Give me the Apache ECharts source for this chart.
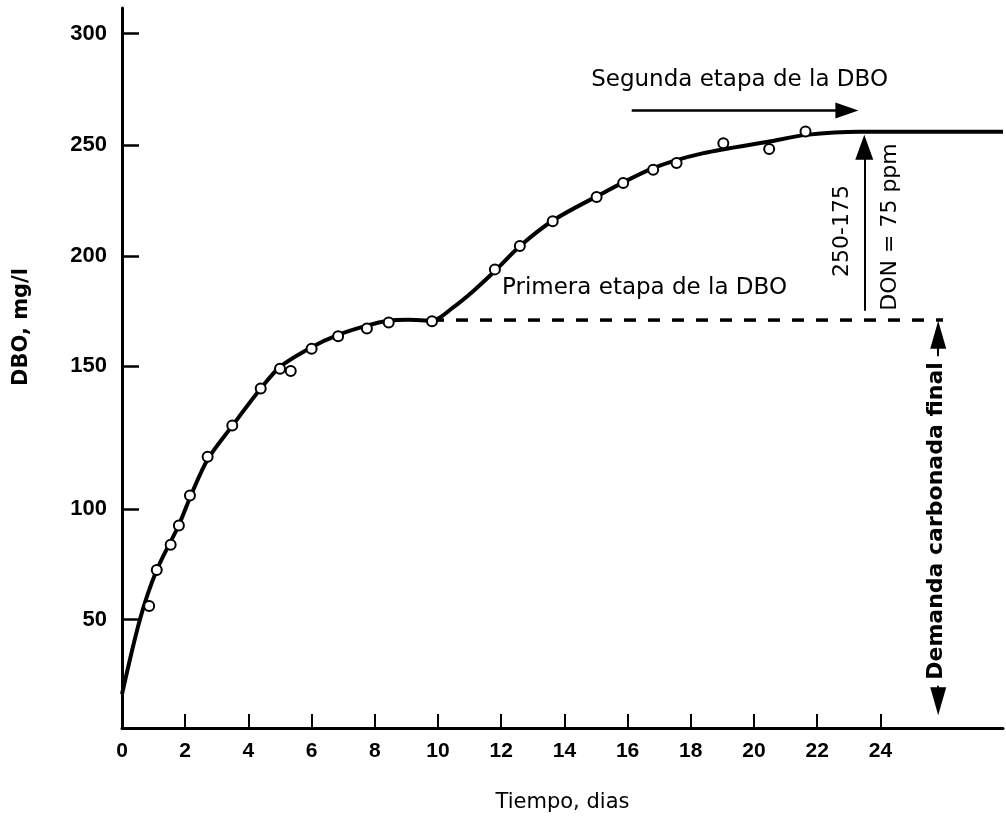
<!DOCTYPE html>
<html>
<head>
<meta charset="utf-8">
<title>DBO</title>
<script src="https://cdn.jsdelivr.net/npm/echarts@6/dist/echarts.min.js"></script>
<style>
  html, body { margin: 0; padding: 0; background: #fff; }
  #chart { width: 1006px; height: 818px; }
</style>
</head>
<body>
<div id="chart"></div>
<script>
// puntos medidos (dias, DBO mg/l)
var pointDays = [0.86, 1.10, 1.54, 1.80, 2.15, 2.71, 3.49, 4.39, 5.00, 5.34, 6.00, 6.84, 7.75,
  8.44, 9.81, 11.80, 12.59, 13.63, 15.02, 15.86, 16.81, 17.55, 19.03, 20.48, 21.63];
var pointDBO = [52.7, 68.2, 79.2, 87.5, 100.4, 117.2, 130.7, 146.6, 155.2, 154.2, 163.8, 169.2, 172.6,
  175.2, 175.7, 198.1, 208.2, 218.9, 229.4, 235.4, 241.1, 244.0, 252.6, 250.1, 257.7];

// curva trazada a mano
var curveDays = [0, 0.57, 1.10, 1.80, 2.21, 2.71, 3.49, 4.39, 5.00, 6.00, 6.84, 7.75, 8.44, 9.05,
  9.81, 10.48, 11.12, 11.80, 12.59, 13.65, 15.02, 16.81, 18.40, 20.48, 21.65, 23.35, 27.88];
var curveDBO = [14.6, 47.0, 68.2, 87.7, 101.4, 116.0, 130.5, 146.6, 156.0, 164.5, 169.8, 173.8, 175.9, 176.3,
  176.0, 181.7, 188.8, 197.4, 208.1, 219.3, 229.6, 241.8, 248.3, 253.3, 256.2, 257.6, 257.6];

// primera etapa (demanda carbonada final)
var firstStageDays = [9.81, 25.98];
var firstStageDBO = 176.2;

// flechas
var arrowSegunda = [[16.13, 266.7], [22.94, 266.7]];
var arrowDON = [[23.49, 180.2], [23.49, 250.8]];
var arrowDemanda = [[25.83, 169.9], [25.83, 11.6]];

// ejes
var xTickDays = [0, 2, 4, 6, 8, 10, 12, 14, 16, 18, 20, 22, 24];
var yTickLabels = ['50', '100', '150', '200', '250', '300'];
var yTickAt = [46.8, 94.6, 156.4, 203.7, 251.8, 300];

function pairs(xs, ys) {
  return xs.map(function (x, i) { return [x, ys[i]]; });
}

var chart = echarts.init(document.getElementById('chart'));

var option = {
  animation: false,
  backgroundColor: '#fff',
  grid: { left: 122, right: 3, top: 8, bottom: 87 },
  xAxis: {
    type: 'value',
    min: 0,
    max: 27.88,
    name: 'Tiempo, dias',
    nameLocation: 'middle',
    nameGap: 64,
    nameTextStyle: { fontFamily: 'DejaVu Sans', fontSize: 21, color: '#000' },
    axisLine: { show: true, onZero: false, lineStyle: { color: '#000', width: 3 } },
    axisTick: {
      show: true, inside: true, length: 14,
      customValues: xTickDays.slice(1),
      lineStyle: { color: '#000', width: 2 }
    },
    axisLabel: {
      customValues: xTickDays,
      color: '#000', fontFamily: 'Liberation Sans', fontWeight: 'bold', fontSize: 21, margin: 13
    },
    splitLine: { show: false }
  },
  yAxis: {
    type: 'value',
    min: 0,
    max: 311,
    name: 'DBO, mg/l',
    nameLocation: 'middle',
    nameGap: 90,
    nameTextStyle: {
      fontFamily: 'DejaVu Sans', fontWeight: 'bold', fontSize: 21, color: '#000',
      padding: [0, 0, 0, 82]
    },
    axisLine: { show: true, onZero: false, lineStyle: { color: '#000', width: 3 } },
    axisTick: {
      show: true, inside: true, length: 17,
      customValues: yTickAt,
      lineStyle: { color: '#000', width: 2.5 }
    },
    axisLabel: {
      customValues: yTickAt,
      color: '#000', fontFamily: 'Liberation Sans', fontWeight: 'bold', fontSize: 22, margin: 15,
      formatter: function (v) {
        var best = 0;
        for (var i = 1; i < yTickAt.length; i++) {
          if (Math.abs(yTickAt[i] - v) < Math.abs(yTickAt[best] - v)) best = i;
        }
        return yTickLabels[best];
      }
    },
    splitLine: { show: false }
  },
  series: [
    {
      name: 'primera etapa',
      type: 'line',
      data: firstStageDays.map(function (d) { return [d, firstStageDBO]; }),
      showSymbol: false,
      lineStyle: { color: '#000', width: 3.5, type: [12, 12] },
      z: 1
    },
    {
      name: 'curva',
      type: 'line',
      data: pairs(curveDays, curveDBO),
      smooth: 0.3,
      showSymbol: false,
      lineStyle: { color: '#000', width: 4 },
      z: 2
    },
    {
      name: 'DBO',
      type: 'scatter',
      data: pairs(pointDays, pointDBO),
      symbol: 'circle',
      symbolSize: 10,
      itemStyle: { color: '#fff', borderColor: '#000', borderWidth: 2, opacity: 1 },
      z: 3
    },
    {
      name: 'flechas',
      type: 'line',
      data: [],
      markLine: {
        silent: true,
        animation: false,
        label: { show: false },
        data: [
          [
            { coord: arrowSegunda[0], symbol: 'none', lineStyle: { color: '#000', width: 2.5, type: 'solid' } },
            { coord: arrowSegunda[1], symbol: 'triangle', symbolSize: [16, 23] }
          ],
          [
            { coord: arrowDON[0], symbol: 'none', lineStyle: { color: '#000', width: 2, type: 'solid' } },
            { coord: arrowDON[1], symbol: 'triangle', symbolSize: [18, 25] }
          ],
          [
            { coord: arrowDemanda[0], symbol: 'triangle', symbolSize: [16, 28], lineStyle: { color: '#000', width: 2, type: 'solid' } },
            { coord: arrowDemanda[1], symbol: 'triangle', symbolSize: [16, 28] }
          ]
        ]
      }
    }
  ],
  graphic: [
    {
      type: 'text', x: 888, y: 80,
      style: { text: 'Segunda etapa de la DBO', font: '23px "DejaVu Sans"', fill: '#000', textAlign: 'right', textVerticalAlign: 'middle' }
    },
    {
      type: 'text', x: 502, y: 288,
      style: { text: 'Primera etapa de la DBO', font: '23px "DejaVu Sans"', fill: '#000', textAlign: 'left', textVerticalAlign: 'middle' }
    },
    {
      type: 'text', x: 842, y: 231, rotation: Math.PI / 2,
      style: { text: '250-175', font: '22px "DejaVu Sans"', fill: '#000', textAlign: 'center', textVerticalAlign: 'middle' }
    },
    {
      type: 'text', x: 890, y: 227, rotation: Math.PI / 2,
      style: { text: 'DON = 75 ppm', font: '22px "DejaVu Sans"', fill: '#000', textAlign: 'center', textVerticalAlign: 'middle' }
    },
    {
      type: 'text', x: 936, y: 521, rotation: Math.PI / 2, z: 100,
      style: {
        text: 'Demanda carbonada final', font: 'bold 22px "DejaVu Sans"', fill: '#000',
        textAlign: 'center', textVerticalAlign: 'middle', backgroundColor: '#fff', padding: [0, 6]
      }
    }
  ]
};

chart.setOption(option);
</script>
</body>
</html>
